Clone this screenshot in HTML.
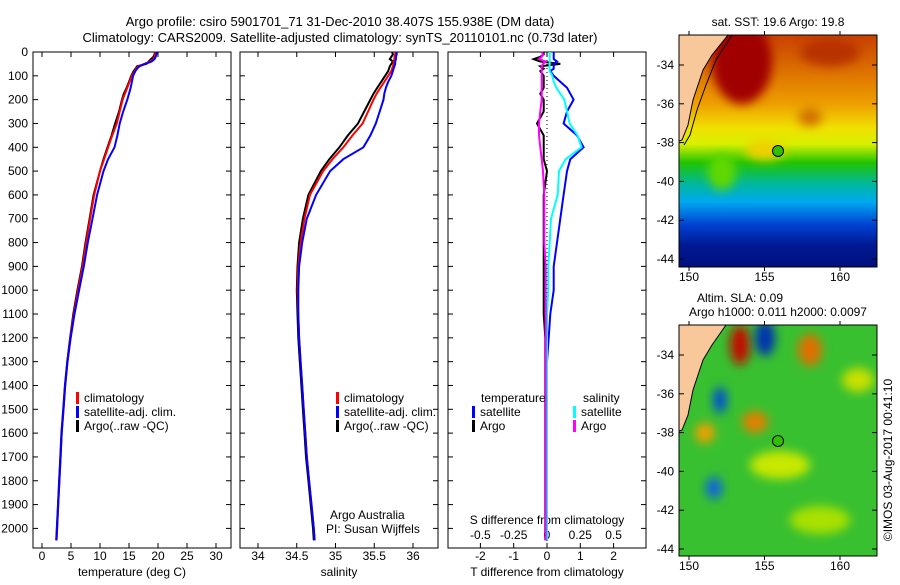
<!DOCTYPE html>
<html><head><meta charset="utf-8"><style>
body{margin:0;background:#fff}
svg{font-family:"Liberation Sans",sans-serif;font-size:12px}
</style></head><body>
<svg id="c" width="900" height="580" viewBox="0 0 900 580">
<defs>
<filter id="bl" x="-50%" y="-50%" width="200%" height="200%"><feGaussianBlur stdDeviation="5"/></filter>
<clipPath id="m1"><rect x="679" y="35" width="198" height="232"/></clipPath>
<clipPath id="m2"><rect x="679" y="325" width="198" height="231"/></clipPath>
<linearGradient id="sst" x1="0" y1="0" x2="0" y2="1">
<stop offset="0" stop-color="#c84000"/><stop offset="0.18" stop-color="#e07800"/><stop offset="0.3" stop-color="#eea000"/><stop offset="0.4" stop-color="#f0e000"/><stop offset="0.47" stop-color="#d8f000"/><stop offset="0.55" stop-color="#22c400"/><stop offset="0.64" stop-color="#00b89a"/><stop offset="0.72" stop-color="#00a8f0"/><stop offset="0.82" stop-color="#0040d0"/><stop offset="0.91" stop-color="#001890"/><stop offset="1" stop-color="#001080"/>
</linearGradient>
</defs>
<text x="340" y="26" text-anchor="middle" font-size="13">Argo profile: csiro 5901701_71 31-Dec-2010 38.407S 155.938E (DM data)</text>
<text x="340" y="42" text-anchor="middle" font-size="13">Climatology: CARS2009. Satellite-adjusted climatology: synTS_20110101.nc (0.73d later)</text>
<g id="plots"></g>

<g clip-path="url(#m1)">
<rect x="679" y="35" width="198" height="232" fill="url(#sst)"/>
<ellipse cx="742" cy="62" rx="30" ry="42" fill="#a00000" filter="url(#bl)"/>
<ellipse cx="830" cy="52" rx="30" ry="14" fill="#b83000" filter="url(#bl)"/>
<ellipse cx="810" cy="117" rx="12" ry="9" fill="#d07000" filter="url(#bl)"/>
<ellipse cx="722" cy="172" rx="14" ry="18" fill="#60d800" filter="url(#bl)"/>
<ellipse cx="765" cy="150" rx="20" ry="10" fill="#f0d000" filter="url(#bl)"/>
<path d="M679 35 L728 35 L712 55 L703 70 L693 100 L688 125 L682 140 L679 141 Z" fill="#f9c89a"/>
<path d="M728 35 L712 55 L703 70 L693 100 L688 125 L682 140 L679 141" fill="none" stroke="#000"/>
<path d="M732 35 L716 60 L706 85 L697 110 L690 135 L684 145" fill="none" stroke="#000"/>
</g>
<rect x="679" y="35" width="198" height="232" fill="none" stroke="#000"/>
<circle cx="778" cy="151" r="5.5" fill="#30c000" stroke="#000"/>
<text x="778" y="26" text-anchor="middle">sat. SST: 19.6 Argo: 19.8</text>

<g clip-path="url(#m2)">
<rect x="679" y="325" width="198" height="231" fill="#38c030"/>
<ellipse cx="740" cy="345" rx="10" ry="20" fill="#c01000" filter="url(#bl)"/>
<ellipse cx="765" cy="338" rx="10" ry="18" fill="#0030b0" filter="url(#bl)"/>
<ellipse cx="810" cy="350" rx="12" ry="16" fill="#e07000" filter="url(#bl)"/>
<ellipse cx="720" cy="400" rx="7" ry="13" fill="#0050d0" filter="url(#bl)"/>
<ellipse cx="755" cy="422" rx="13" ry="11" fill="#e08000" filter="url(#bl)"/>
<ellipse cx="705" cy="433" rx="10" ry="10" fill="#f0a000" filter="url(#bl)"/>
<ellipse cx="714" cy="488" rx="8" ry="11" fill="#1060e0" filter="url(#bl)"/>
<ellipse cx="780" cy="465" rx="30" ry="14" fill="#c8e800" filter="url(#bl)"/>
<ellipse cx="858" cy="380" rx="16" ry="12" fill="#c8e000" filter="url(#bl)"/>
<ellipse cx="820" cy="520" rx="30" ry="14" fill="#a8e000" filter="url(#bl)"/>
<path d="M679 325 L726 325 L712 345 L703 360 L693 390 L688 415 L682 430 L679 431 Z" fill="#f9c89a"/>
<path d="M726 325 L712 345 L703 360 L693 390 L688 415 L682 430 L679 431" fill="none" stroke="#000"/>
</g>
<rect x="679" y="325" width="198" height="231" fill="none" stroke="#000"/>
<circle cx="778" cy="441" r="5.5" fill="#30c000" stroke="#000"/>
<text x="740" y="302" text-anchor="middle">Altim. SLA: 0.09</text>
<text x="778" y="316" text-anchor="middle">Argo h1000: 0.011 h2000: 0.0097</text>
<g id="maxes"></g>
<text transform="translate(892,460) rotate(-90)" text-anchor="middle">©IMOS 03-Aug-2017 00:41:10</text>
</svg>
<script>
const depths=[0,10,20,30,40,50,60,70,80,100,125,150,175,200,250,300,350,400,450,500,600,700,800,900,1000,1100,1200,1300,1400,1500,1600,1700,1800,1900,2000,2050];
const tempClim=[19.6,19.5,19.4,19.2,18.6,17.6,16.6,16.2,16.0,15.5,15.1,14.7,14.3,13.9,13.4,12.9,12.1,11.4,10.7,10.0,9.0,8.3,7.6,7.0,6.2,5.5,4.9,4.4,4.0,3.7,3.4,3.2,3.0,2.8,2.6,2.5];
const tempSat=[19.8,19.7,19.6,19.4,18.9,17.8,16.8,16.4,16.1,15.7,15.5,15.3,15.0,14.7,14.0,13.4,13.0,12.5,11.4,10.6,9.5,8.7,7.9,7.2,6.4,5.6,4.95,4.4,4.0,3.7,3.4,3.2,3.0,2.8,2.6,2.5];
const tempArgo=[19.5,19.4,19.2,18.8,18.4,18.0,16.4,16.1,15.8,15.4,15.0,14.6,14.1,13.8,13.3,12.6,12.0,11.3,10.6,10.0,8.9,8.2,7.5,6.9,6.1,5.4,4.85,4.35,3.95,3.65,3.35,3.15,2.95,2.75,2.55,2.45];
const salClim=[35.77,35.77,35.76,35.76,35.75,35.75,35.74,35.73,35.72,35.68,35.63,35.58,35.53,35.49,35.42,35.35,35.22,35.1,34.96,34.84,34.67,34.6,34.55,34.52,34.51,34.52,34.53,34.55,34.57,34.59,34.61,34.63,34.66,34.69,34.72,34.73];
const salSat=[35.79,35.79,35.78,35.78,35.77,35.77,35.76,35.75,35.74,35.72,35.68,35.65,35.63,35.62,35.57,35.52,35.45,35.36,35.1,34.93,34.75,34.63,34.57,34.53,34.52,34.52,34.53,34.55,34.57,34.59,34.61,34.63,34.66,34.69,34.72,34.73];
const salArgo=[35.73,35.74,35.72,35.70,35.74,35.72,35.70,35.69,35.68,35.64,35.59,35.54,35.49,35.45,35.37,35.29,35.16,35.05,34.92,34.81,34.65,34.58,34.53,34.51,34.5,34.51,34.52,34.54,34.56,34.58,34.6,34.62,34.65,34.68,34.71,34.72];
const depthTicks=[0,100,200,300,400,500,600,700,800,900,1000,1100,1200,1300,1400,1500,1600,1700,1800,1900,2000];
const tempTicks=[0,5,10,15,20,25,30];
const salTicks=[34,34.5,35,35.5,36];
const tdiffTicks=[-2,-1,0,1,2];
const sdiffTicks=[-0.5,-0.25,0,0.25,0.5];
const sdiffLabels=["-0.5","-0.25","0","0.25","0.5"];
const lonTicks=[150,155,160];
const latTicks=[-34,-36,-38,-40,-42,-44];

const NS='http://www.w3.org/2000/svg';
const g=document.getElementById('plots');
function mk(t,a,p){const e=document.createElementNS(NS,t);for(const k in a)e.setAttribute(k,a[k]);(p||g).appendChild(e);return e;}
const Y=d=>52+d*0.2382;
const X1=v=>42+v*5.8;
const X2=v=>258+(v-34)*77.5;
const X3=v=>547+v*33.3;
const XS=v=>547+v*133.2;
const panels=[[33,'temp-panel'],[240,'salinity-panel'],[448,'difference-panel']];
panels.forEach(([x,n])=>{const r=mk('rect',{x:x,y:52,width:198,height:496,fill:'none',stroke:'#000'});


depthTicks.forEach(d=>{mk('line',{x1:x,x2:x+5,y1:Y(d),y2:Y(d),stroke:'#000'});mk('line',{x1:x+198,x2:x+193,y1:Y(d),y2:Y(d),stroke:'#000'});});});
depthTicks.forEach(d=>{const t=mk('text',{x:28,y:Y(d)+4,'text-anchor':'end'});t.textContent=d;

});
function xt(ticks,f,labels,yy){ticks.forEach((v,i)=>{mk('line',{x1:f(v),x2:f(v),y1:548,y2:543,stroke:'#000'});mk('line',{x1:f(v),x2:f(v),y1:52,y2:57,stroke:'#000'});
const t=mk('text',{x:f(v),y:yy,'text-anchor':'middle'});t.textContent=labels?labels[i]:v;

});}
xt(tempTicks,X1,null,560);xt(salTicks,X2,null,560);xt(tdiffTicks,X3,null,560);
sdiffTicks.forEach((v,i)=>{const t=mk('text',{x:XS(v),y:539,'text-anchor':'middle'});t.textContent=sdiffLabels[i];

});
function lbl(x,y,s,n,a){const t=mk('text',{x:x,y:y,'text-anchor':a||'middle'});t.textContent=s;

}
lbl(132,576,'temperature (deg C)','temp-axis-title');
lbl(339,576,'salinity','salinity-axis-title');
lbl(547,576,'T difference from climatology','t-diff-axis-title');
lbl(547,524,'S difference from climatology','s-diff-axis-title');
lbl(330,519,'Argo Australia','credit-argo-australia','start');
lbl(326,533,'PI: Susan Wijffels','credit-pi','start');
mk('line',{x1:547,x2:547,y1:52,y2:548,stroke:'#000','stroke-dasharray':'1,3'});
function line(vals,f,col,n,w){const pts=vals.map((v,i)=>f(v).toFixed(1)+','+Y(depths[i]).toFixed(1)).join(' ');
const p=mk('polyline',{points:pts,fill:'none',stroke:col,'stroke-width':w||2});

}
line(tempArgo,X1,'#000','temp-argo-line');line(tempClim,X1,'#f00','temp-clim-line');line(tempSat,X1,'#00f','temp-sat-line');
line(salArgo,X2,'#000','sal-argo-line');line(salClim,X2,'#f00','sal-clim-line');line(salSat,X2,'#00f','sal-sat-line');
line(tempArgo.map((v,i)=>v-tempClim[i]),X3,'#000','tdiff-argo-line');
line(tempSat.map((v,i)=>v-tempClim[i]),X3,'#00f','tdiff-sat-line');
line(salSat.map((v,i)=>v-salClim[i]),XS,'#0ff','sdiff-sat-line');
line(salArgo.map((v,i)=>v-salClim[i]),XS,'#f0f','sdiff-argo-line');
function leg(x,y,col,s){mk('rect',{x:x,y:y-10,width:3,height:12,fill:col});const t=mk('text',{x:x+8,y:y});t.textContent=s;

}
[[76,'climatology','#f00'],[76,'satellite-adj. clim.','#00f'],[76,"Argo(..raw -QC)",'#000']].forEach((e,i)=>{leg(76,402+i*14,e[2],e[1]);leg(336,402+i*14,e[2],e[1]);});
lbl(481,402,'temperature','legend-temperature-heading','start');
lbl(583,402,'salinity','legend-salinity-heading','start');
leg(472,416,'#00f','satellite');leg(472,430,'#000','Argo');
leg(573,416,'#0ff','satellite');leg(573,430,'#f0f','Argo');
const mg=document.getElementById('maxes');
const LX=v=>689+(v-150)*15.1;
[[65,35,267],[355,325,556]].forEach(([y34,top,bot])=>{
latTicks.forEach(v=>{const y=y34+(-34-v)*19.4;mk('line',{x1:679,x2:684,y1:y,y2:y,stroke:'#000'},mg);mk('line',{x1:877,x2:872,y1:y,y2:y,stroke:'#000'},mg);
const t=mk('text',{x:674,y:y+4,'text-anchor':'end'},mg);t.textContent=v;

});
lonTicks.forEach(v=>{mk('line',{x1:LX(v),x2:LX(v),y1:top,y2:top-4,stroke:'#000'},mg);mk('line',{x1:LX(v),x2:LX(v),y1:bot,y2:bot+4,stroke:'#000'},mg);
const t=mk('text',{x:LX(v),y:bot+14,'text-anchor':'middle'},mg);t.textContent=v;

});});
</script>
</body></html>
